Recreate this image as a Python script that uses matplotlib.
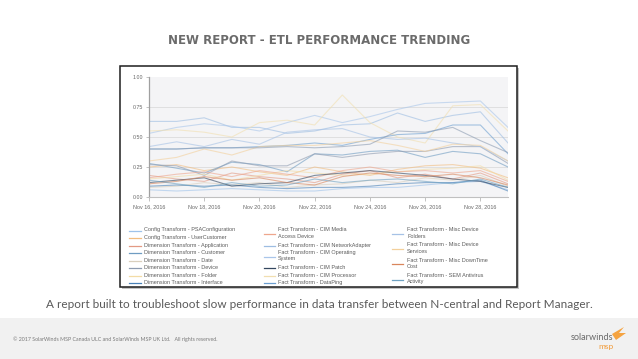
import matplotlib
matplotlib.use("Agg")
import matplotlib.pyplot as plt
from matplotlib.patches import Rectangle, Polygon
import numpy as np

# ---------------- data ----------------
days = ["Nov 16", "Nov 17", "Nov 18", "Nov 19", "Nov 20", "Nov 21", "Nov 22",
        "Nov 23", "Nov 24", "Nov 25", "Nov 26", "Nov 27", "Nov 28", "Nov 29"]
tick_labels = ["Nov 16, 2016", "Nov 18, 2016", "Nov 20, 2016", "Nov 22, 2016",
               "Nov 24, 2016", "Nov 26, 2016", "Nov 28, 2016"]
y_ticks = [0.0, 0.25, 0.5, 0.75, 1.0]
y_tick_labels = ["0.00", "0.25", "0.50", "0.75", "1.00"]

series_names = [
    "Config Transform - PSAConfiguration",
    "Config Transform - UserCustomer",
    "Dimension Transform - Application",
    "Dimension Transform - Customer",
    "Dimension Transform - Date",
    "Dimension Transform - Device",
    "Dimension Transform - Folder",
    "Dimension Transform - Interface",
    "Fact Transform - CIM Media\nAccess Device",
    "Fact Transform - CIM NetworkAdapter",
    "Fact Transform - CIM Operating\nSystem",
    "Fact Transform - CIM Patch",
    "Fact Transform - CIM Processor",
    "Fact Transform - DataPing",
    "Fact Transform - Misc Device\nFolders",
    "Fact Transform - Misc Device\nServices",
    "Fact Transform - Misc DownTime\nCost",
    "Fact Transform - SEM Antivirus\nActivity",
    "Fact Transform - SEM Antivirus",
]

series_colors = [
    "#9fc3ea", "#f2bd80", "#e39a84", "#6f9cc2", "#d9cfbd", "#8e9bb0",
    "#f3dca6", "#4a82b8", "#eea68c", "#9dbde2", "#a9c6ea", "#34475f",
    "#f1dfb0", "#6c9fd0", "#a6c2e6", "#f3d09c", "#d9865c", "#6fa2c2",
    "#8c9cb2",
]

v_psaconfig   = [0.06, 0.05, 0.06, 0.07, 0.06, 0.05, 0.05, 0.07, 0.08, 0.08, 0.10, 0.12, 0.13, 0.06]
v_usercust    = [0.25, 0.27, 0.22, 0.25, 0.21, 0.18, 0.25, 0.21, 0.18, 0.23, 0.26, 0.27, 0.24, 0.16]
v_application = [0.18, 0.15, 0.13, 0.20, 0.17, 0.15, 0.12, 0.19, 0.22, 0.16, 0.19, 0.15, 0.20, 0.11]
v_customer    = [0.28, 0.24, 0.20, 0.29, 0.27, 0.21, 0.36, 0.35, 0.38, 0.39, 0.33, 0.38, 0.36, 0.25]
v_date        = [0.08, 0.09, 0.12, 0.10, 0.12, 0.08, 0.10, 0.11, 0.14, 0.12, 0.16, 0.14, 0.18, 0.09]
v_device      = [0.27, 0.26, 0.18, 0.30, 0.26, 0.26, 0.36, 0.33, 0.36, 0.38, 0.38, 0.42, 0.42, 0.28]
v_folder      = [0.15, 0.17, 0.19, 0.14, 0.18, 0.22, 0.20, 0.18, 0.19, 0.21, 0.23, 0.24, 0.26, 0.14]
v_interface   = [0.09, 0.10, 0.09, 0.10, 0.08, 0.07, 0.08, 0.08, 0.09, 0.11, 0.12, 0.12, 0.14, 0.05]
v_cim_media   = [0.16, 0.19, 0.21, 0.17, 0.22, 0.19, 0.16, 0.22, 0.25, 0.21, 0.22, 0.20, 0.22, 0.13]
v_cim_netadp  = [0.63, 0.63, 0.66, 0.58, 0.58, 0.53, 0.55, 0.60, 0.61, 0.70, 0.63, 0.68, 0.71, 0.45]
v_cim_os      = [0.53, 0.58, 0.61, 0.59, 0.55, 0.62, 0.68, 0.62, 0.67, 0.73, 0.78, 0.79, 0.80, 0.58]
v_cim_patch   = [0.12, 0.14, 0.16, 0.09, 0.11, 0.12, 0.18, 0.20, 0.22, 0.20, 0.18, 0.15, 0.13, 0.08]
v_cim_proc    = [0.55, 0.56, 0.54, 0.50, 0.62, 0.64, 0.60, 0.85, 0.62, 0.50, 0.45, 0.76, 0.77, 0.55]
v_dataping    = [0.40, 0.40, 0.41, 0.41, 0.42, 0.43, 0.45, 0.43, 0.48, 0.52, 0.53, 0.60, 0.60, 0.36]
v_misc_fold   = [0.42, 0.46, 0.42, 0.48, 0.44, 0.54, 0.56, 0.57, 0.50, 0.48, 0.49, 0.45, 0.42, 0.30]
v_misc_serv   = [0.30, 0.33, 0.40, 0.35, 0.42, 0.43, 0.43, 0.45, 0.47, 0.43, 0.38, 0.44, 0.43, 0.30]
v_downtime    = [0.11, 0.13, 0.17, 0.14, 0.16, 0.12, 0.10, 0.17, 0.20, 0.18, 0.17, 0.19, 0.16, 0.10]
v_sem_av      = [0.14, 0.11, 0.08, 0.12, 0.09, 0.10, 0.15, 0.12, 0.14, 0.15, 0.13, 0.11, 0.15, 0.08]
v_sem_scan    = [0.40, 0.40, 0.41, 0.41, 0.41, 0.42, 0.41, 0.42, 0.44, 0.55, 0.54, 0.58, 0.47, 0.37]

series_values = [v_psaconfig, v_usercust, v_application, v_customer, v_date,
                 v_device, v_folder, v_interface, v_cim_media, v_cim_netadp,
                 v_cim_os, v_cim_patch, v_cim_proc, v_dataping, v_misc_fold,
                 v_misc_serv, v_downtime, v_sem_av, v_sem_scan]

title_text = "NEW REPORT - ETL PERFORMANCE TRENDING"
caption_text = ("A report built to troubleshoot slow performance in data transfer "
                "between N-central and Report Manager.")
footer_text = ("\u00a9 2017 SolarWinds MSP Canada ULC and SolarWinds MSP UK Ltd.   "
               "All rights reserved.")

# ---------------- figure ----------------
W, H = 638, 359
fig = plt.figure(figsize=(W / 100, H / 100), dpi=100)
fig.patch.set_facecolor("white")

# background / decoration axes in pixel coordinates
bg = fig.add_axes([0, 0, 1, 1], zorder=0)
bg.set_xlim(0, W)
bg.set_ylim(H, 0)
bg.axis("off")
bg.add_patch(Rectangle((0, 318), W, H - 318, facecolor="#f1f1f1", edgecolor="none"))
bg.add_patch(Rectangle((122, 68), 397, 221, facecolor="#c4c4c4", edgecolor="none"))
bg.add_patch(Rectangle((120, 66), 397, 221, facecolor="white", edgecolor="#1e1e1e", lw=1.1))

# logo
bg.text(613, 337, "solarwinds", ha="right", va="center", fontsize=6.6,
        family="Lato", color="#6a6a6a")
bg.text(614, 346, "msp", ha="right", va="center", fontsize=6.0,
        family="Lato", color="#f29b38")
bg.add_patch(Polygon([[612, 334], [624, 327], [619, 333], [626, 333], [616, 340]],
                     closed=True, facecolor="#f5a340", edgecolor="none"))

fig.text(0.5, 1 - 41 / H, title_text, ha="center", va="center", fontsize=8.5,
         fontweight="bold", color="#6b6b6b", family="DejaVu Sans")
fig.text(0.5, 1 - 305 / H, caption_text, ha="center", va="center", fontsize=8.45,
         color="#5a5a5a", family="Lato")
fig.text(13 / W, 1 - 339 / H, footer_text, ha="left", va="center", fontsize=3.8,
         color="#7a7a7a", family="Lato")

# ---------------- main chart ----------------
ax = fig.add_axes([149 / W, 1 - 197 / H, (508 - 149) / W, (197 - 77) / H], zorder=2)
ax.set_facecolor("#f4f4f6")
x = np.arange(len(days))
for vals, col in zip(series_values, series_colors):
    ax.plot(x, vals, color=col, lw=0.8, alpha=0.6, solid_joinstyle="round")

ax.set_xlim(0, len(days) - 1)
ax.set_ylim(0, 1.0)
ax.set_yticks(y_ticks)
ax.set_yticklabels(y_tick_labels)
ax.set_xticks(x[::2])
ax.set_xticklabels(tick_labels)
for yv in y_ticks[1:-1]:
    ax.axhline(yv, color="#dcdcdc", lw=0.6, zorder=0)
for s in ["top", "right"]:
    ax.spines[s].set_visible(False)
ax.spines["left"].set_color("#a0a0a0")
ax.spines["left"].set_linewidth(0.9)
ax.spines["bottom"].set_color("#c0c0c0")
ax.spines["bottom"].set_linewidth(0.8)
ax.tick_params(axis="y", length=2, width=0.5, color="#aaaaaa", pad=2,
               labelsize=3.8, labelcolor="#666666")
ax.tick_params(axis="x", length=3, width=0.5, color="#aaaaaa", pad=2,
               labelsize=3.9, labelcolor="#666666")
for lab in ax.get_xticklabels() + ax.get_yticklabels():
    lab.set_family("Liberation Sans")

# ---------------- legend (clipped by frame) ----------------
lg = fig.add_axes([121 / W, 1 - 286 / H, 395 / W, 219 / H], zorder=3)
lg.set_xlim(121, 516)
lg.set_ylim(286, 67)
lg.axis("off")
lg.patch.set_alpha(0)

col_groups = [range(0, 8), range(8, 14), range(14, 19)]
col_line_x = [(129, 141), (264, 275), (392, 403)]
col_text_x = [144, 278, 407]
y0, step = 230.0, 7.55
for gi, grp in enumerate(col_groups):
    y = y0
    for i in grp:
        lines = series_names[i].split("\n")
        n = len(lines)
        ly = y + (n - 1) * step / 2 + 0.5
        lg.plot(col_line_x[gi], [ly, ly], color=series_colors[i], lw=0.9,
                clip_on=True)
        lg.text(col_text_x[gi], y - 2.6, series_names[i], ha="left", va="top",
                fontsize=4.0, color="#5c5c5c", family="Liberation Sans",
                linespacing=1.28, clip_on=True)
        y += n * step

fig.savefig("out.png", dpi=100)
